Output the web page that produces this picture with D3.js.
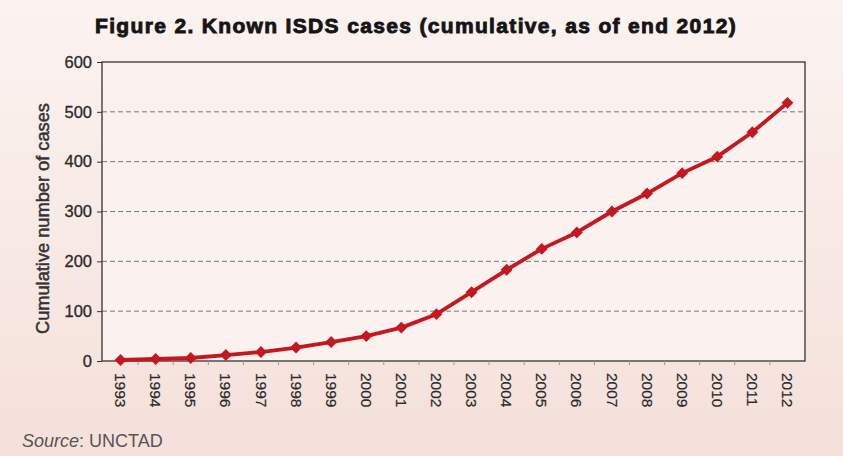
<!DOCTYPE html>
<html>
<head>
<meta charset="utf-8">
<script src="https://cdn.jsdelivr.net/npm/d3@7"></script>
<style>
  html, body { margin: 0; padding: 0; }
  body { width: 843px; height: 456px; overflow: hidden; }
  svg { display: block; font-family: "Liberation Sans", Arial, sans-serif; }
</style>
</head>
<body>
<svg id="chart" width="843" height="456"></svg>
<script>
var years = ["1993", "1994", "1995", "1996", "1997", "1998", "1999", "2000", "2001", "2002",
  "2003", "2004", "2005", "2006", "2007", "2008", "2009", "2010", "2011", "2012"];
var cases = [2, 4, 6, 12, 18, 27, 38, 50, 67, 94,
  138, 183, 225, 258, 300, 336, 377, 410, 459, 518];
var yTicks = [0, 100, 200, 300, 400, 500, 600];

var svg = d3.select("#chart");

// background
var defs = svg.append("defs");
var bg = defs.append("linearGradient")
    .attr("id", "bg")
    .attr("x1", 0).attr("y1", 0).attr("x2", 0).attr("y2", 1);
bg.append("stop").attr("offset", "0%").attr("stop-color", "#fbf3f0");
bg.append("stop").attr("offset", "100%").attr("stop-color", "#f5e0da");
svg.append("rect")
    .attr("width", 843).attr("height", 456)
    .attr("fill", "url(#bg)");

var plotL = 102, plotR = 805, plotT = 62, plotB = 361;

var x = d3.scaleBand().domain(years).range([plotL + 1, plotR]);
var y = d3.scaleLinear().domain([0, 600]).range([plotB, plotT]);

// plot area
svg.append("rect")
    .attr("x", plotL).attr("y", plotT)
    .attr("width", plotR - plotL).attr("height", plotB - plotT)
    .attr("fill", "#fbf1ee");

// dashed grid lines
svg.append("g")
    .selectAll("line")
    .data(yTicks.filter(function (d) { return d > 0 && d < 600; }))
    .join("line")
    .attr("x1", plotL).attr("x2", plotR)
    .attr("y1", function (d) { return y(d); })
    .attr("y2", function (d) { return y(d); })
    .attr("stroke", "#777")
    .attr("stroke-width", 1)
    .attr("stroke-dasharray", "5,3");

// frame
svg.append("rect")
    .attr("x", plotL).attr("y", plotT)
    .attr("width", plotR - plotL).attr("height", plotB - plotT)
    .attr("fill", "none")
    .attr("stroke", "#333")
    .attr("stroke-width", 1.3);

// y axis
var yAxis = svg.append("g")
    .attr("transform", "translate(" + plotL + ",0)")
    .call(d3.axisLeft(y).tickValues(yTicks).tickSize(5).tickPadding(5));
yAxis.select(".domain").remove();
yAxis.selectAll("line").attr("stroke", "#333");
yAxis.selectAll("text")
    .attr("font-size", 16.5)
    .attr("fill", "#2a2a2a")
    .attr("stroke", "#2a2a2a")
    .attr("stroke-width", 0.3);

// x axis: ticks on band boundaries, labels rotated
var xg = svg.append("g").attr("transform", "translate(0," + plotB + ")");
xg.selectAll("line")
    .data(years.slice(1))
    .join("line")
    .attr("x1", function (d) { return x(d); })
    .attr("x2", function (d) { return x(d); })
    .attr("y1", 0).attr("y2", 4)
    .attr("stroke", "#999");
xg.selectAll("text")
    .data(years)
    .join("text")
    .attr("transform", function (d) {
      return "translate(" + (x(d) + x.bandwidth() / 2) + ",12) rotate(90)";
    })
    .attr("dy", "0.35em")
    .attr("text-anchor", "start")
    .attr("font-size", 15.5)
    .attr("fill", "#2a2a2a")
    .attr("stroke", "#2a2a2a")
    .attr("stroke-width", 0.2)
    .text(function (d) { return d; });

// line + markers
var line = d3.line()
    .x(function (d, i) { return x(years[i]) + x.bandwidth() / 2; })
    .y(function (d) { return y(d); });

svg.append("path")
    .datum(cases)
    .attr("d", line)
    .attr("fill", "none")
    .attr("stroke", "#c5171f")
    .attr("stroke-width", 3.8)
    .attr("stroke-linejoin", "round");

svg.append("g")
    .selectAll("path")
    .data(cases)
    .join("path")
    .attr("d", d3.symbol().type(d3.symbolDiamond2).size(90))
    .attr("transform", function (d, i) {
      return "translate(" + (x(years[i]) + x.bandwidth() / 2) + "," + y(d) + ")";
    })
    .attr("fill", "#c5171f");

// title
var title = svg.append("text")
    .attr("x", 416).attr("y", 33)
    .attr("text-anchor", "middle")
    .attr("font-size", 21)
    .attr("font-weight", "bold")
    .attr("fill", "#151515")
    .attr("stroke", "#151515")
    .attr("stroke-width", 0.9)
    .text("Figure 2. Known ISDS cases (cumulative, as of end 2012)");
var tw = title.node().getComputedTextLength();
title.attr("letter-spacing", (642 - tw) / 55);

// y label
svg.append("text")
    .attr("transform", "translate(49," + ((plotT + plotB) / 2 + 7) + ") rotate(-90)")
    .attr("text-anchor", "middle")
    .attr("font-size", 17.5)
    .attr("fill", "#333")
    .attr("stroke", "#333")
    .attr("stroke-width", 0.5)
    .attr("textLength", 231)
    .attr("lengthAdjust", "spacingAndGlyphs")
    .text("Cumulative number of cases");

// source
var src = svg.append("text")
    .attr("x", 22).attr("y", 447)
    .attr("font-size", 18)
    .attr("fill", "#555");
src.append("tspan").attr("font-style", "italic").text("Source");
src.append("tspan").text(": UNCTAD");
</script>
</body>
</html>
